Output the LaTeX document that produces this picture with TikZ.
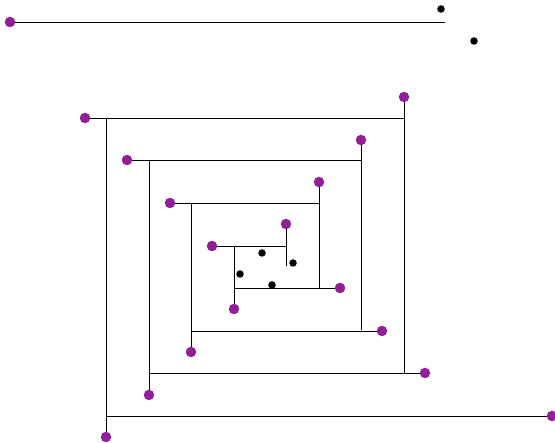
\documentclass[tikz,border=0pt]{standalone}
\definecolor{dotpurple}{RGB}{145,32,150}
\begin{document}
\begin{tikzpicture}[x=1pt,y=-1pt,
  pdot/.style={circle,fill=dotpurple,inner sep=0pt,minimum size=10.5pt},
  bdot/.style={circle,fill=black,inner sep=0pt,minimum size=7.5pt},
  seg/.style={draw=black,line width=0.9pt}]
\useasboundingbox (0,0) rectangle (555,443);
% top line
\coordinate (t1) at (445,22);
% outer square
\coordinate (a1) at (404,118);
\coordinate (a2) at (404,373);
\coordinate (a3) at (106,416);
\coordinate (a4) at (106,118);
% square 2
\coordinate (b1) at (361,160);
\coordinate (b2) at (361,330);
\coordinate (b3) at (149,373);
\coordinate (b4) at (149,160);
% square 3
\coordinate (c1) at (319,203);
\coordinate (c2) at (319,288);
\coordinate (c3) at (191,331);
\coordinate (c4) at (191,203);
% square 4
\coordinate (d1) at (286,246);
\coordinate (d2) at (286,266);
\coordinate (d3) at (234,288);
\coordinate (d4) at (234,246);
% segments
\draw[seg] (10,22) coordinate (t0) -- (t1);
\draw[seg] (85,118) coordinate (pa1) -- (a1);
\draw[seg] (404,97) coordinate (pa2) -- (a2);
\draw[seg] (a3) -- (552,416) coordinate (pa3);
\draw[seg] (a4) -- (106,437) coordinate (pa4);
\draw[seg] (127,160) coordinate (pb1) -- (b1);
\draw[seg] (361,140) coordinate (pb2) -- (b2);
\draw[seg] (b3) -- (425,373) coordinate (pb3);
\draw[seg] (b4) -- (149,395) coordinate (pb4);
\draw[seg] (170,203) coordinate (pc1) -- (c1);
\draw[seg] (319,182) coordinate (pc2) -- (c2);
\draw[seg] (c3) -- (382,331) coordinate (pc3);
\draw[seg] (c4) -- (191,352) coordinate (pc4);
\draw[seg] (212,246) coordinate (pd1) -- (d1);
\draw[seg] (286,224) coordinate (pd2) -- (d2);
\draw[seg] (d3) -- (340,288) coordinate (pd3);
\draw[seg] (d4) -- (234,309) coordinate (pd4);
% purple dots
\foreach \p in {t0,pa1,pa2,pa3,pa4,pb1,pb2,pb3,pb4,pc1,pc2,pc3,pc4,pd1,pd2,pd3,pd4}
  \node[pdot] (n\p) at (\p) {};
% black dots
\node[bdot] (k1) at (441,9) {};
\node[bdot] (k2) at (474,41) {};
\node[bdot] (k3) at (262,253) {};
\node[bdot] (k4) at (293,263) {};
\node[bdot] (k5) at (240,274) {};
\node[bdot] (k6) at (272,285) {};
\end{tikzpicture}
\end{document}
